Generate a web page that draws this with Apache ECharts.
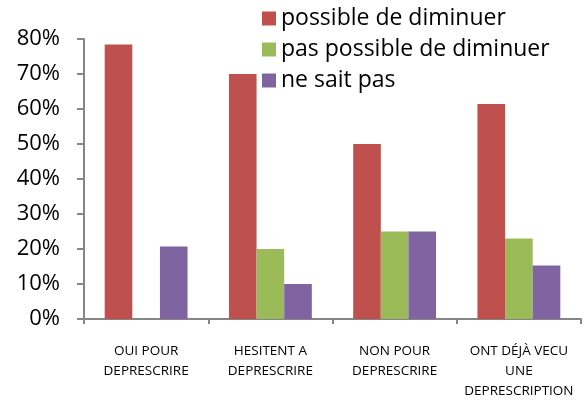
<!DOCTYPE html>
<html>
<head>
<meta charset="utf-8">
<script src="https://cdn.jsdelivr.net/npm/echarts@6/dist/echarts.min.js"></script>
<style>
  html, body { margin: 0; padding: 0; background: #fff; }
  #chart { width: 584px; height: 401px; }
</style>
</head>
<body>
<div id="chart"></div>
<script>
// Groupes de médecins
const categories = [
  'OUI POUR\nDEPRESCRIRE',
  'HESITENT A\nDEPRESCRIRE',
  'NON POUR\nDEPRESCRIRE',
  'ONT DÉJÀ VECU\nUNE\nDEPRESCRIPTION'
];
// Pourcentages par réponse
const possibleDiminuer = [78.4, 70, 50, 61.4];
const pasPossible = [0, 20, 25, 23];
const neSaitPas = [20.7, 10, 25, 15.3];
const yTicks = [0, 10, 20, 30, 40, 50, 60, 70, 80];

const axisGray = '#868686';
const font = '"Open Sans", "Noto Sans", sans-serif';

const chart = echarts.init(document.getElementById('chart'), null, { renderer: 'canvas' });
chart.setOption({
  animation: false,
  backgroundColor: '#ffffff',
  textStyle: { fontFamily: font },
  legend: {
    orient: 'vertical',
    left: 257,
    top: 2,
    itemWidth: 14,
    itemHeight: 14,
    itemGap: 8,
    icon: 'rect',
    textStyle: { fontSize: 23, color: '#000', fontFamily: font },
    data: ['possible de diminuer', 'pas possible de diminuer', 'ne sait pas']
  },
  grid: { left: 84, right: 3, top: 39, bottom: 81, containLabel: false },
  xAxis: {
    type: 'category',
    data: categories,
    axisLine: { lineStyle: { color: axisGray, width: 2 } },
    axisTick: { show: true, length: 5, lineStyle: { color: axisGray, width: 2 } },
    axisLabel: {
      color: '#000',
      fontSize: 13.5,
      lineHeight: 20,
      margin: 22,
      interval: 0,
      fontFamily: font
    }
  },
  yAxis: {
    type: 'value',
    min: yTicks[0],
    max: yTicks[yTicks.length - 1],
    interval: 10,
    axisLine: { show: true, lineStyle: { color: axisGray, width: 2 } },
    axisTick: { show: true, length: 7, lineStyle: { color: axisGray, width: 2 } },
    splitLine: { show: false },
    axisLabel: {
      color: '#000',
      fontSize: 22,
      margin: 24,
      fontFamily: font,
      formatter: v => v + '%'
    }
  },
  series: [
    {
      name: 'possible de diminuer', type: 'bar', data: possibleDiminuer,
      itemStyle: { color: '#C0504D' }, barGap: '0%', barCategoryGap: '33.3%'
    },
    {
      name: 'pas possible de diminuer', type: 'bar', data: pasPossible,
      itemStyle: { color: '#9BBB59' }, barGap: '0%', barCategoryGap: '33.3%'
    },
    {
      name: 'ne sait pas', type: 'bar', data: neSaitPas,
      itemStyle: { color: '#8064A2' }, barGap: '0%', barCategoryGap: '33.3%'
    }
  ]
});
</script>
</body>
</html>
